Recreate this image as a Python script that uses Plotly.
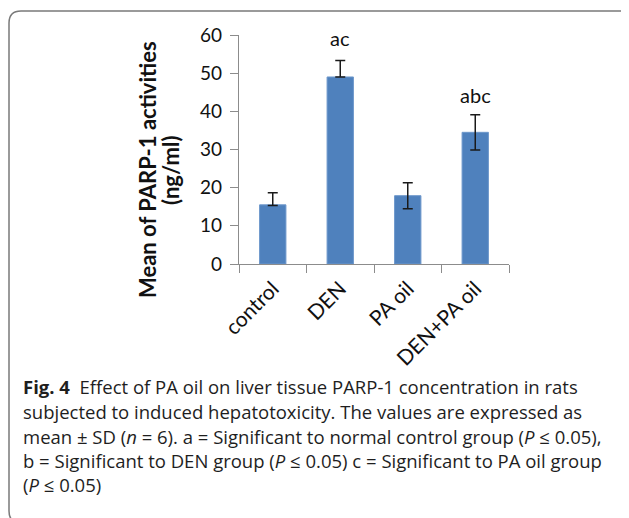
import plotly.graph_objects as go

categories = ["control", "DEN", "PA oil", "DEN+PA oil"]
means = [15.5, 49.0, 17.9, 34.5]
err_plus = [3.2, 4.3, 3.4, 4.6]
err_minus = [0.2, 0.0, 3.4, 4.6]
sig_labels = ["", "ac", "", "abc"]
sig_y = [None, 59.2, None, 44.3]
y_ticks = [0, 10, 20, 30, 40, 50, 60]

caption_lines = [
    "<b>Fig. 4</b>  Effect of PA oil on liver tissue PARP-1 concentration in rats",
    "subjected to induced hepatotoxicity. The values are expressed as",
    "mean ± SD (<i>n</i> = 6). a = Significant to normal control group (<i>P</i> ≤ 0.05),",
    "b = Significant to DEN group (<i>P</i> ≤ 0.05) c = Significant to PA oil group",
    "(<i>P</i> ≤ 0.05)",
]

OFF = 8  # default page body margin
W, H = 629, 518
L, R, T, B = 239, 509, 35, 264


def px(x):
    return (x - L) / (R - L)


def py(y):
    return (B - y) / (B - T)


FONT = "Lato"
CAPFONT = "Open Sans"

fig = go.Figure()
fig.add_trace(go.Bar(
    x=categories, y=means, width=0.39,
    marker=dict(color="#4f81bd", line=dict(color="#6d97cb", width=1)),
    error_y=dict(type="data", array=err_plus, arrayminus=err_minus,
                 color="#1a1a1a", thickness=1.5, width=5),
    showlegend=False,
))

annotations = []
for c, lab, yv in zip(categories, sig_labels, sig_y):
    if lab:
        annotations.append(dict(x=c, y=yv, xref="x", yref="y", text=lab,
                                showarrow=False, yanchor="middle",
                                font=dict(family=FONT, size=20, color="#111")))

for txt, xx in [("<b>Mean of PARP-1 activities</b>", 148), ("<b>(ng/ml)</b>", 171)]:
    annotations.append(dict(
        x=px(xx), y=py(170), xref="paper", yref="paper",
        text=txt, textangle=-90,
        showarrow=False, xanchor="center", yanchor="middle",
        font=dict(family=FONT, size=22, color="#111")))

cap_y = [386, 411, 436, 460, 484]
for line, yy in zip(caption_lines, cap_y):
    annotations.append(dict(
        x=px(21), y=py(yy), xref="paper", yref="paper", text=line,
        showarrow=False, xanchor="left", yanchor="middle", align="left",
        font=dict(family=CAPFONT, size=18.5, color="#1e1e1e")))

# rounded border
l, t, r, b, rad = 9, 11, 634, 523, 12
path = (f"M {px(l)},{py(t+rad)} Q {px(l)},{py(t)} {px(l+rad)},{py(t)} "
        f"L {px(r-rad)},{py(t)} Q {px(r)},{py(t)} {px(r)},{py(t+rad)} "
        f"L {px(r)},{py(b-rad)} Q {px(r)},{py(b)} {px(r-rad)},{py(b)} "
        f"L {px(l+rad)},{py(b)} Q {px(l)},{py(b)} {px(l)},{py(b-rad)} Z")

fig.update_layout(
    width=W - OFF, height=H - OFF, autosize=False,
    margin=dict(l=L - OFF, r=W - R, t=T - OFF, b=H - B),
    paper_bgcolor="white", plot_bgcolor="white",
    annotations=annotations,
    shapes=[dict(type="path", path=path, xref="paper", yref="paper",
                 line=dict(color="#7a7a7a", width=1.5), layer="below")],
    xaxis=dict(showline=True, linecolor="#8c8c8c", linewidth=1.3,
               ticks="outside", tickson="boundaries", ticklen=8,
               tickcolor="#8c8c8c", tickwidth=1.3, tickangle=-45,
               showgrid=False, ticklabelstandoff=3,
               tickfont=dict(family=FONT, size=21, color="#111")),
    yaxis=dict(range=[0, 60], tickvals=y_ticks, showline=True,
               linecolor="#8c8c8c", linewidth=1.3, ticks="outside",
               ticklen=8, tickcolor="#8c8c8c", tickwidth=1.3,
               showgrid=False, zeroline=False, ticklabelstandoff=4,
               tickfont=dict(family=FONT, size=19, color="#111")),
)

fig.write_html("out.html")
